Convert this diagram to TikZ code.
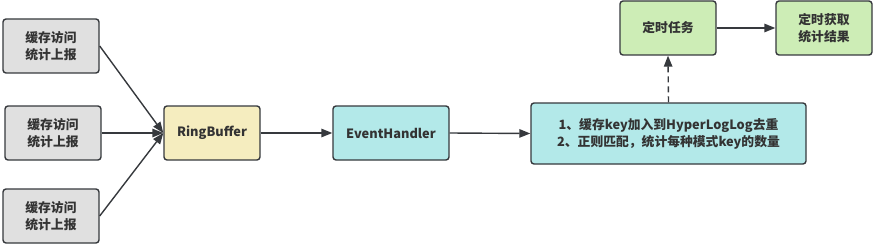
\documentclass[tikz,border=0pt]{standalone}
\usepackage{fontspec}
\setmainfont{Noto Sans CJK SC}
\usetikzlibrary{arrows.meta}
\definecolor{bordc}{HTML}{36393D}
\definecolor{txtc}{HTML}{333333}
\definecolor{grayf}{HTML}{E0E0E0}
\definecolor{yelf}{HTML}{F5EDBF}
\definecolor{cyanf}{HTML}{B3E9E9}
\definecolor{greenf}{HTML}{CDEDB6}
\tikzset{
  box/.style={draw=bordc, line width=1.4pt, rounded corners=3pt, minimum width=96pt, minimum height=54pt, inner sep=0pt, align=center, text=txtc, font=\fontsize{12.8}{17}\selectfont\bfseries},
  conn/.style={draw=bordc, line width=1.4pt, -{Triangle[length=11pt,width=8.5pt]}},
}
\begin{document}
\begin{tikzpicture}[x=1pt,y=-1pt]
\useasboundingbox (0,0) rectangle (876,246);
\node[box, fill=grayf] (s1) at (51,46) {缓存访问\\统计上报};
\node[box, fill=grayf] (s2) at (53,133) {缓存访问\\统计上报};
\node[box, fill=grayf] (s3) at (51,216) {缓存访问\\统计上报};
\node[box, fill=yelf] (rb) at (212,133) {RingBuffer};
\node[box, fill=cyanf, minimum width=116pt] (eh) at (391,133) {EventHandler};
\node[box, fill=cyanf, minimum width=275pt, minimum height=61pt] (big) at (668.5,133.5) {1、缓存key加入到HyperLogLog去重\\2、正则匹配，统计每种模式key的数量};
\node[box, fill=greenf] (task) at (668,28) {定时任务};
\node[box, fill=greenf] (res) at (824,28) {定时获取\\统计结果};
\draw[conn] (s1.east) -- (rb.west);
\draw[conn] (s2.east) -- (rb.west);
\draw[conn] (s3.east) -- (rb.west);
\draw[conn] (rb.east) -- (eh.west);
\draw[conn] (eh.east) -- (big.west);
\draw[conn, dash pattern=on 6pt off 4pt] (big.north) -- (task.south);
\draw[conn] (task.east) -- (res.west);
\end{tikzpicture}
\end{document}
